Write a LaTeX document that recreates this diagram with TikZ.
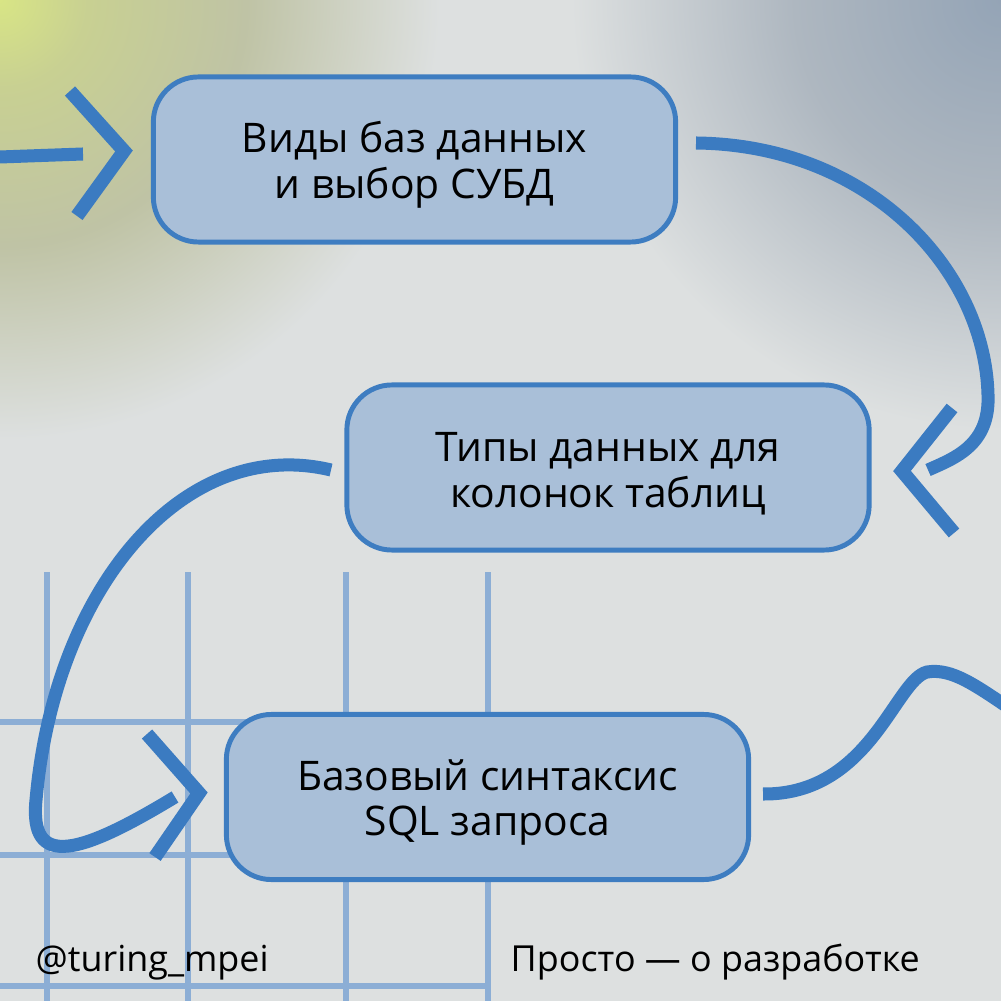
\documentclass[tikz,border=0pt]{standalone}
\usepackage{fontspec}
\setmainfont{Open Sans}

\definecolor{bgcol}{HTML}{DDE0E0}
\definecolor{tlA}{HTML}{D8E585}
\definecolor{tlB}{HTML}{C8D092}
\definecolor{tlC}{HTML}{BFC3A5}
\definecolor{trA}{HTML}{94A4B6}
\definecolor{trB}{HTML}{AEB7C0}
\definecolor{linkblue}{HTML}{3B7BC1}
\definecolor{boxfill}{HTML}{A9BFD8}
\definecolor{boxline}{HTML}{3E7DC1}
\definecolor{gridblue}{HTML}{8CAED5}

\pgfdeclareradialshading{glowleft}{\pgfpointorigin}{color(0bp)=(tlA); color(5bp)=(tlB); color(14bp)=(tlC); color(25bp)=(bgcol); color(50bp)=(bgcol)}
\pgfdeclareradialshading{glowright}{\pgfpointorigin}{color(0bp)=(trA); color(12bp)=(trB); color(25bp)=(bgcol); color(50bp)=(bgcol)}

\newcommand{\capstrut}{\rule{0pt}{11.8pt}}

\begin{document}
\begin{tikzpicture}[x=0.01cm, y=-0.01cm,
    topic/.style={rectangle, rounded corners=0.45cm, draw=boxline, line width=1.4pt, fill=boxfill,
      minimum width=5.22cm, minimum height=1.65cm, align=center, inner sep=0pt,
      font=\fontsize{11.6}{12.9}\selectfont},
    link/.style={draw=linkblue, line width=3.7pt, line cap=butt},
    chevron/.style={draw=linkblue, line width=3.9pt, line cap=butt, line join=miter},
    gridline/.style={draw=gridblue, line width=1.6pt},
    footer/.style={anchor=base west, inner sep=0pt, font=\fontsize{10.2}{12}\selectfont}]

      % Background
      \useasboundingbox (0,0) rectangle (1001,1001);
      \clip (0,0) rectangle (1001,1001);
      \fill[bgcol] (0,0) rectangle (1001,1001);
      \shade[shading=glowleft] (0,0) circle (440);
      \shade[shading=glowright] (1001,0) circle (430);

      % Grid
      \foreach \gx in {47,188,346,488} \draw[gridline] (\gx,572) -- (\gx,1001);
      \foreach \gy in {722,855,986} \draw[gridline] (0,\gy) -- (488,\gy);

      % Connectors
      \coordinate (inlet) at (0,157);
      \coordinate (inletend) at (83,154);
      \coordinate (firstout) at (696,143);
      \coordinate (secondin) at (928,470);
      \coordinate (secondout) at (331,470);
      \coordinate (thirdin) at (175,797);
      \coordinate (thirdout) at (763,794);
      \coordinate (outlet) at (1015,712);

      \draw[link] (inlet) -- (inletend);
      \draw[link] (firstout) .. controls (870,145) and (985,270) .. (988,395)
        .. controls (990,445) and (955,458) .. (secondin);
      \draw[link] (secondout) .. controls (185,435) and (55,585) .. (36,800)
        .. controls (29,870) and (81,854) .. (thirdin);
      \draw[link] (thirdout) .. controls (870,795) and (895,680) .. (927,672)
        .. controls (952,668) and (975,685) .. (outlet);

      % Nodes
      \node[topic] (dbtypes) at (414.5,159.5) {\capstrut Виды баз данных\\и выбор СУБД};
      \node[topic] (coltypes) at (608,467.5) {\capstrut Типы данных для\\колонок таблиц};
      \node[topic] (sqlbasics) at (487.5,797) {\capstrut Базовый синтаксис\\SQL запроса};

      % Chevrons
      \draw[chevron] (70,91) -- (124,151) -- (77,216);
      \draw[chevron] (952,408) -- (902,471) -- (954,533);
      \draw[chevron] (147,734) -- (199,793) -- (155,857);

      % Footer
      \node[footer] (handle) at (35,971) {@turing\_mpei};
      \node[footer] (slogan) at (510,971) {Просто — о разработке};
    \end{tikzpicture}
\end{document}
